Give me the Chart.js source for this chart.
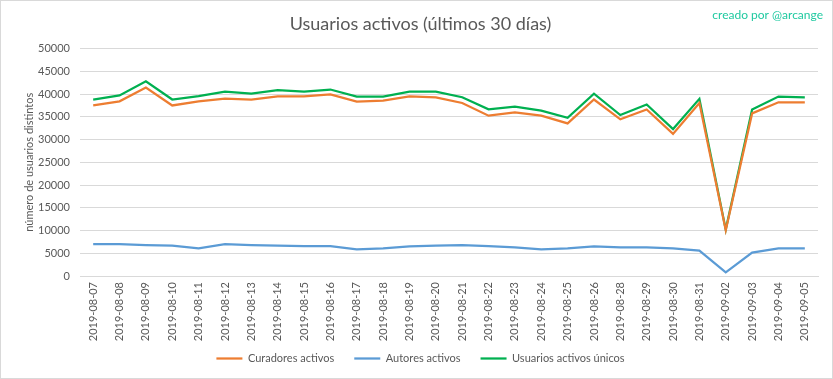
<!DOCTYPE html>
<html>
<head>
<meta charset="utf-8">
<script src="https://cdn.jsdelivr.net/npm/chart.js@4/dist/chart.umd.min.js"></script>
<style>
html,body{margin:0;padding:0;background:#fff;}
#wrap{position:relative;width:833px;height:379px;box-sizing:border-box;border:1px solid #d9d9d9;background:#fff;}
canvas{display:block;}
</style>
</head>
<body>
<div id="wrap"><canvas id="c" width="831" height="377"></canvas></div>
<script>
const categories = ["2019-08-07","2019-08-08","2019-08-09","2019-08-10","2019-08-11","2019-08-12","2019-08-13","2019-08-14","2019-08-15","2019-08-16","2019-08-17","2019-08-18","2019-08-19","2019-08-20","2019-08-21","2019-08-22","2019-08-23","2019-08-24","2019-08-25","2019-08-26","2019-08-28","2019-08-29","2019-08-30","2019-08-31","2019-09-02","2019-09-03","2019-09-04","2019-09-05"];
const curadores = [37500,38400,41450,37500,38400,39000,38800,39500,39500,39950,38350,38550,39500,39250,38050,35250,36000,35250,33550,38800,34450,36600,31250,38050,10050,35750,38200,38200];
const autores = [7000,7000,6800,6700,6050,7000,6800,6700,6550,6550,5850,6100,6500,6700,6800,6550,6300,5850,6050,6500,6300,6300,6050,5600,800,5150,6050,6050];
const unicos = [38800,39700,42800,38800,39550,40550,40100,40850,40550,41000,39450,39450,40550,40550,39300,36650,37250,36350,34800,40100,35400,37700,32300,38950,10200,36600,39450,39300];
const yTicks = [0,5000,10000,15000,20000,25000,30000,35000,40000,45000,50000];

const FONT = "Lato, 'Liberation Sans', sans-serif";
const GREY = "#595959";

const creditPlugin = {
  id: 'credit',
  afterDraw(chart) {
    const ctx = chart.ctx;
    ctx.save();
    ctx.font = "12px " + FONT;
    ctx.fillStyle = "#1fc9a0";
    ctx.textAlign = "right";
    ctx.textBaseline = "middle";
    ctx.fillText("creado por @arcange", 822, 14);
    ctx.restore();
  }
};

new Chart(document.getElementById('c'), {
  type: 'line',
  data: {
    labels: categories,
    datasets: [
      {label: 'Curadores activos', data: curadores, borderColor: '#ED7D31', backgroundColor: '#ED7D31', borderWidth: 2.25, pointRadius: 0, tension: 0},
      {label: 'Autores activos', data: autores, borderColor: '#5B9BD5', backgroundColor: '#5B9BD5', borderWidth: 2.25, pointRadius: 0, tension: 0},
      {label: 'Usuarios activos únicos', data: unicos, borderColor: '#00B050', backgroundColor: '#00B050', borderWidth: 2.25, pointRadius: 0, tension: 0}
    ]
  },
  options: {
    responsive: false,
    animation: false,
    layout: {padding: {top: 4, left: 22, right: 14, bottom: 4}},
    plugins: {
      title: {display: true, text: 'Usuarios activos (últimos 30 días)', color: GREY, font: {family: FONT, size: 18, weight: 'normal'}, padding: {top: 8, bottom: 14}},
      legend: {position: 'bottom', labels: {usePointStyle: true, pointStyle: 'line', pointStyleWidth: 26, color: GREY, font: {family: FONT, size: 11}, padding: 20}},
      tooltip: {enabled: false}
    },
    scales: {
      x: {
        offset: true,
        grid: {display: false, drawTicks: false},
        border: {display: true, color: '#d9d9d9'},
        ticks: {color: GREY, font: {family: FONT, size: 11}, minRotation: 90, maxRotation: 90, autoSkip: false, padding: 6},
        afterFit(s) { s.height = 57; s._computeLabelArea = function () { return undefined; }; }
      },
      y: {
        min: 0, max: 50000,
        afterBuildTicks(s) { s.ticks = yTicks.map(v => ({value: v})); },
        grid: {color: '#d9d9d9', drawTicks: false},
        border: {display: false},
        ticks: {color: GREY, font: {family: FONT, size: 11}, padding: 10, callback: v => String(v)},
        title: {display: true, text: 'número de usuarios distintos', color: GREY, font: {family: FONT, size: 11}, padding: {top: 0, bottom: 4}},
        afterFit(s) { s.width = 57; }
      }
    }
  },
  plugins: [creditPlugin]
});
</script>
</body>
</html>
